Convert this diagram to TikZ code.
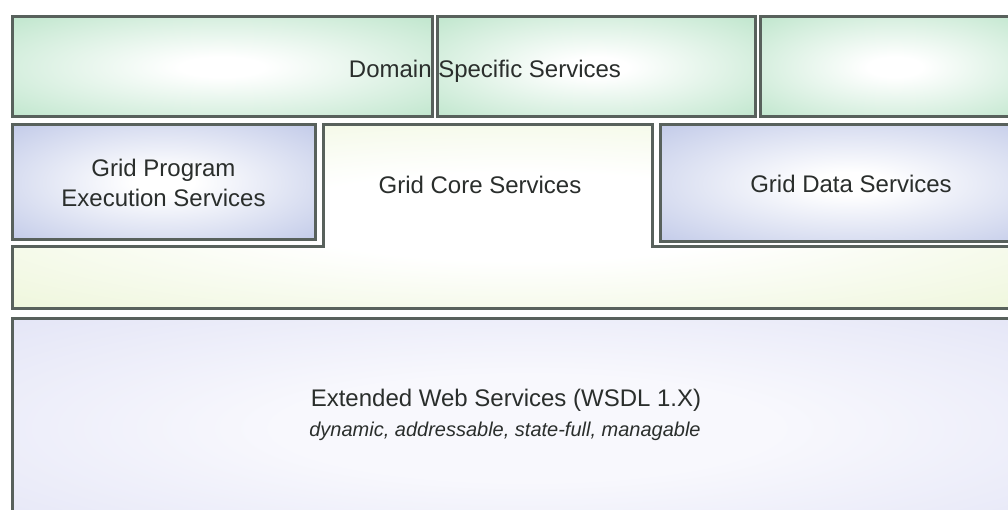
\documentclass[tikz,border=0pt]{standalone}
\usepackage{fontspec}
\setmainfont{Liberation Sans}

% palette
\definecolor{rimgray}{HTML}{58615C}
\definecolor{labelgray}{HTML}{2A2E2C}
\definecolor{dssedge}{HTML}{B3E1C3}
\definecolor{execedge}{HTML}{B6C0E4}
\definecolor{coreedge}{HTML}{E8F3CE}
\definecolor{wsedge}{HTML}{DCDEF4}
\definecolor{wscore}{HTML}{F8F8FD}

% soft glows: light centre fading to the panel colour at the rim
\pgfdeclareradialshading{dssglow}{\pgfpoint{0bp}{0bp}}{color(0bp)=(white); color(5bp)=(white); color(42bp)=(dssedge); color(50bp)=(dssedge)}
\pgfdeclareradialshading{execglow}{\pgfpoint{0bp}{0bp}}{color(0bp)=(white); color(5bp)=(white); color(42bp)=(execedge); color(50bp)=(execedge)}
\pgfdeclareradialshading{coreglow}{\pgfpoint{0bp}{0bp}}{color(0bp)=(white); color(12bp)=(white); color(45bp)=(coreedge); color(50bp)=(coreedge)}
\pgfdeclareradialshading{wsglow}{\pgfpoint{0bp}{0bp}}{color(0bp)=(wscore); color(12bp)=(wscore); color(45bp)=(wsedge); color(50bp)=(wsedge)}

\tikzset{
  panel/.style={inner sep=0pt, outer sep=0pt},
  rim/.style={draw=rimgray, line width=3pt, line join=miter},
  label/.style={text=labelgray, font=\fontsize{24}{30}\selectfont, align=center, inner sep=0pt},
  note/.style={text=labelgray, font=\fontsize{20}{24}\selectfont\itshape, inner sep=0pt},
}

\begin{document}
\begin{tikzpicture}[x=1pt,y=-1pt]
\fill[white] (0,0) rectangle (1008,510);
\useasboundingbox (0,0) rectangle (1008,510);

% top row: domain specific services
\node[panel, shading=dssglow, minimum width=420pt, minimum height=100pt] (dssA) at (222,67) {};
\node[panel, shading=dssglow, minimum width=318pt, minimum height=100pt] (dssB) at (596,67) {};
\node[panel, shading=dssglow, minimum width=270pt, minimum height=100pt] (dssC) at (895,67) {};
\node[label] (dsslabel) at (485,71) {Domain Specific Services};
\foreach \b in {dssA,dssB,dssC}
  \draw[rim] (\b.south west) rectangle (\b.north east);

% grid core services, wrapping under the side services
\shadedraw[shading=coreglow, rim]
  (323,125) -- (652,125) -- (652,247) -- (1030,247) -- (1030,308)
  -- (12,308) -- (12,247) -- (323,247) -- cycle;
\node[label] (corelabel) at (480,185) {Grid Core Services};

% side services
\node[panel, rim, shading=execglow, minimum width=303pt, minimum height=115pt,
      label] (gpes) at (163.5,182.5) {Grid Program\\Execution Services};
\node[panel, rim, shading=execglow, minimum width=382pt, minimum height=117pt,
      label] (gds) at (851,183.5) {Grid Data Services};

% base layer: extended web services
\node[panel, rim, shading=wsglow, minimum width=1030pt, minimum height=220pt] (ews) at (527,428) {};
\node[label] (ewslabel) at (506,400) {Extended Web Services (WSDL 1.X)};
\node[note] (ewsnote) at (505,431) {dynamic, addressable, state-full, managable};
\end{tikzpicture}
\end{document}
